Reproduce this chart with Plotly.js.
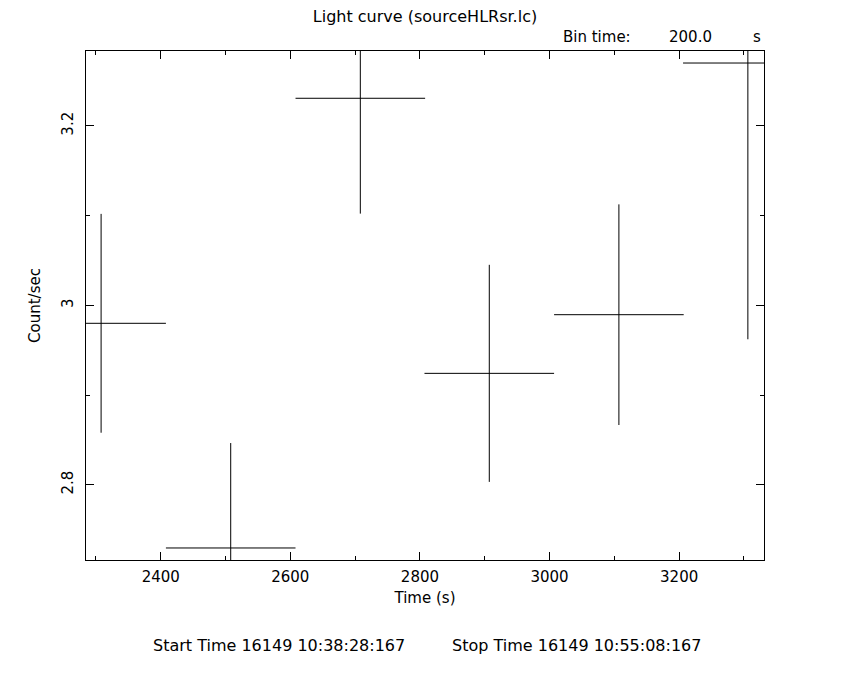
<!DOCTYPE html>
<html>
<head>
<meta charset="utf-8">
<script src="https://cdn.plot.ly/plotly-3.0.1.min.js"></script>
<style>html,body{margin:0;padding:0;background:#fff;}#chart{width:850px;height:680px;}</style>
</head>
<body>
<div id="chart"></div>
<script>
// Data
const timeCenters = [2308, 2508, 2708, 2907, 3107, 3306];
const countRates  = [2.980, 2.7295, 3.2309, 2.9242, 2.9896, 3.2702];
const rateErrors  = [0.122, 0.117, 0.1286, 0.121, 0.123, 0.308];
const halfBin     = [100, 100, 100, 100, 100, 100];

const titleText = 'Light curve (sourceHLRsr.lc)';
const xTitle = 'Time (s)';
const yTitle = 'Count/sec';
const startText = 'Start Time 16149 10:38:28:167';
const stopText = 'Stop Time 16149 10:55:08:167';

const FONT = 'DejaVu Sans, sans-serif';

const trace = {
  x: timeCenters,
  y: countRates,
  type: 'scatter',
  mode: 'markers',
  marker: {size: 1, color: 'rgba(0,0,0,0)'},
  error_x: {type: 'data', array: halfBin, symmetric: true, width: 0, thickness: 1, color: '#000'},
  error_y: {type: 'data', array: rateErrors, symmetric: true, width: 0, thickness: 1, color: '#000'},
  hoverinfo: 'x+y',
  showlegend: false
};

const axisCommon = {
  showline: true, linecolor: '#000', linewidth: 1, mirror: 'allticks',
  ticks: 'inside', ticklen: 8, tickwidth: 1, tickcolor: '#000',
  showgrid: false, zeroline: false,
  tickfont: {family: FONT, size: 15, color: '#000'}
};

const PH = 509.3; // plot height px (680-51-120 approx)
const PW = 678;

const layout = {
  width: 850, height: 680,
  paper_bgcolor: '#fff', plot_bgcolor: '#fff',
  margin: {l: 86, r: 86, t: 51, b: 120, pad: 0},
  font: {family: FONT, size: 15, color: '#000'},
  title: {text: titleText, font: {family: FONT, size: 16, color: '#000'},
          x: 0.5, xref: 'paper', xanchor: 'center', y: 1 - 16/680, yref: 'container', yanchor: 'middle'},
  xaxis: Object.assign({}, axisCommon, {
    range: [2284.7, 3330.9], tick0: 2400, dtick: 200,
    ticklabelstandoff: 3,
    minor: {dtick: 100, tick0: 2300, ticks: 'inside', ticklen: 4, tickwidth: 1, tickcolor: '#000', showgrid: false},
    title: {text: xTitle, font: {family: FONT, size: 15, color: '#000'}, standoff: 7}
  }),
  yaxis: Object.assign({}, axisCommon, {
    range: [2.7161, 3.2836], tick0: 2.8, dtick: 0.2, tickangle: -90,
    ticklabelstandoff: 6,
    minor: {dtick: 0.1, tick0: 2.8, ticks: 'inside', ticklen: 4, tickwidth: 1, tickcolor: '#000', showgrid: false},
    title: {text: yTitle, font: {family: FONT, size: 15, color: '#000'}, standoff: 14}
  }),
  annotations: [
    {text: 'Bin time:', xref: 'paper', yref: 'paper', x: (560.7-86)/PW, y: 1 + (51-37)/PH,
     xanchor: 'left', yanchor: 'middle', showarrow: false, font: {family: FONT, size: 15, color: '#000'}},
    {text: '200.0', xref: 'paper', yref: 'paper', x: (714-86)/PW, y: 1 + (51-37)/PH,
     xanchor: 'right', yanchor: 'middle', showarrow: false, font: {family: FONT, size: 15, color: '#000'}},
    {text: 's', xref: 'paper', yref: 'paper', x: (763-86)/PW, y: 1 + (51-37)/PH,
     xanchor: 'right', yanchor: 'middle', showarrow: false, font: {family: FONT, size: 15, color: '#000'}},
    {text: startText, xref: 'paper', yref: 'paper', x: (278.5-86)/PW, y: -(646-560.3)/PH,
     xanchor: 'center', yanchor: 'middle', showarrow: false, font: {family: FONT, size: 16, color: '#000'}},
    {text: stopText, xref: 'paper', yref: 'paper', x: (576-86)/PW, y: -(646-560.3)/PH,
     xanchor: 'center', yanchor: 'middle', showarrow: false, font: {family: FONT, size: 16, color: '#000'}}
  ]
};

Plotly.newPlot('chart', [trace], layout, {staticPlot: true, displayModeBar: false});
</script>
</body>
</html>
